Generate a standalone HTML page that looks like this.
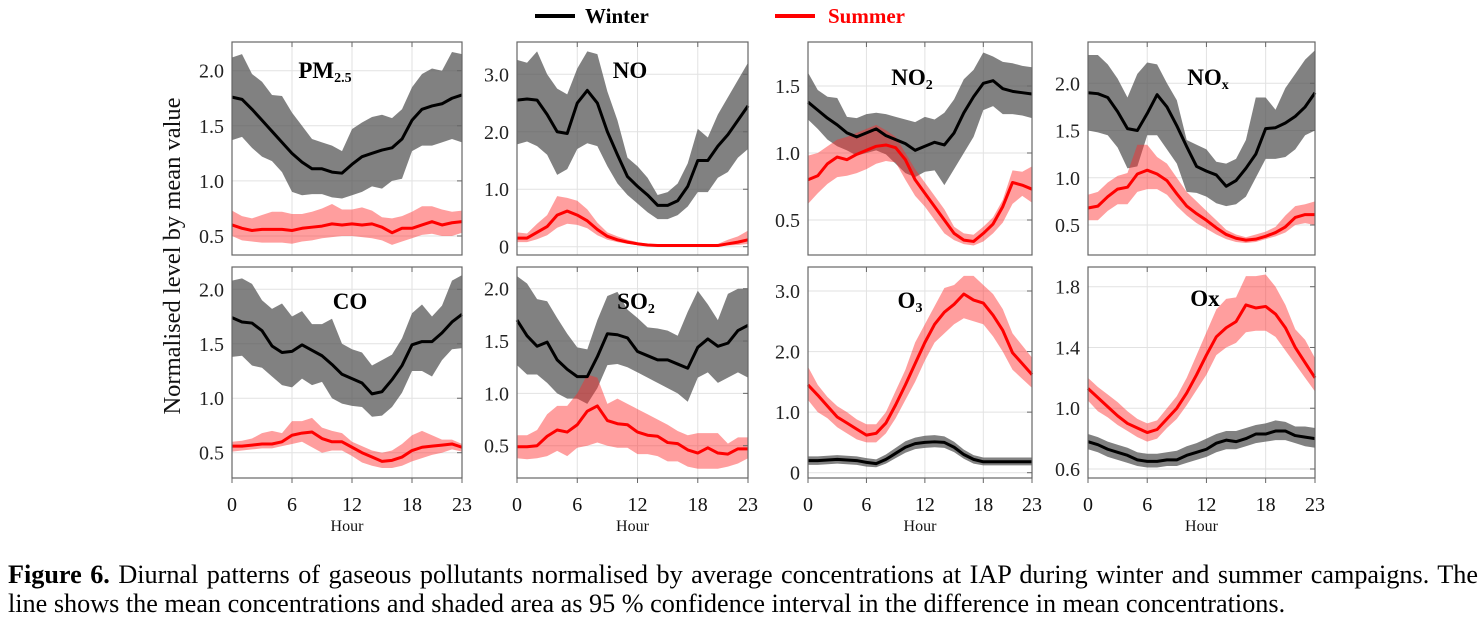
<!DOCTYPE html>
<html><head><meta charset="utf-8"><style>
body{margin:0;background:#fff;width:1482px;height:623px;overflow:hidden;font-family:"Liberation Serif",serif}
.cap{position:absolute;left:8px;width:1470px;font-size:26.2px;color:#000;white-space:nowrap;font-family:"Liberation Serif",serif}
.j{text-align:justify;text-align-last:justify;white-space:normal}
</style></head><body>
<svg id="chart" width="1482" height="623" style="position:absolute;left:0;top:0" font-family="Liberation Serif, serif"></svg>
<div class="cap j" style="top:560px"><b>Figure 6.</b> Diurnal patterns of gaseous pollutants normalised by average concentrations at IAP during winter and summer campaigns. The</div>
<div class="cap" style="top:589px">line shows the mean concentrations and shaded area as 95 % confidence interval in the difference in mean concentrations.</div>
<script>
const hours=[0,1,2,3,4,5,6,7,8,9,10,11,12,13,14,15,16,17,18,19,20,21,22,23];
const xTicks=[0,6,12,18,23];
const pm_w=[1.76,1.74,1.65,1.55,1.45,1.35,1.25,1.17,1.11,1.11,1.08,1.07,1.15,1.22,1.25,1.28,1.30,1.38,1.55,1.65,1.68,1.70,1.75,1.78];
const pm_wu=[2.12,2.15,1.97,1.90,1.78,1.77,1.62,1.50,1.38,1.35,1.32,1.27,1.47,1.53,1.58,1.60,1.57,1.65,1.85,1.97,2.02,2.00,2.17,2.15];
const pm_wl=[1.37,1.40,1.30,1.22,1.18,1.08,0.90,0.87,0.88,0.88,0.85,0.84,0.87,0.90,0.95,0.93,1.00,1.02,1.27,1.32,1.32,1.35,1.38,1.35];
const pm_s=[0.60,0.57,0.55,0.56,0.56,0.56,0.55,0.57,0.58,0.59,0.61,0.60,0.61,0.60,0.61,0.58,0.53,0.57,0.57,0.60,0.63,0.60,0.62,0.63];
const pm_su=[0.73,0.68,0.66,0.69,0.72,0.72,0.70,0.70,0.72,0.75,0.79,0.74,0.74,0.76,0.73,0.67,0.66,0.68,0.72,0.77,0.77,0.74,0.72,0.73];
const pm_sl=[0.50,0.46,0.45,0.44,0.44,0.44,0.43,0.45,0.46,0.48,0.49,0.50,0.50,0.49,0.48,0.46,0.42,0.45,0.48,0.51,0.52,0.50,0.50,0.53];
const no_w=[2.55,2.57,2.55,2.30,2.00,1.97,2.50,2.72,2.50,2.00,1.60,1.22,1.05,0.90,0.72,0.72,0.80,1.05,1.50,1.50,1.75,1.95,2.20,2.45];
const no_wu=[3.25,3.20,3.40,3.00,2.75,2.65,3.10,3.40,3.35,2.70,2.20,1.55,1.40,1.20,0.90,0.95,1.10,1.45,2.05,1.90,2.30,2.60,2.90,3.20];
const no_wl=[1.78,1.83,1.75,1.60,1.25,1.35,1.70,1.80,1.75,1.40,1.10,0.90,0.75,0.60,0.48,0.48,0.55,0.70,0.95,0.95,1.20,1.30,1.55,1.70];
const no_s=[0.15,0.15,0.25,0.35,0.55,0.62,0.55,0.45,0.30,0.18,0.12,0.08,0.05,0.03,0.02,0.02,0.02,0.02,0.02,0.02,0.02,0.05,0.08,0.12];
const no_su=[0.25,0.23,0.40,0.55,0.88,0.85,0.80,0.65,0.42,0.25,0.18,0.12,0.08,0.05,0.04,0.04,0.04,0.04,0.04,0.04,0.05,0.12,0.18,0.28];
const no_sl=[0.08,0.08,0.13,0.20,0.33,0.40,0.38,0.32,0.20,0.12,0.08,0.05,0.03,0.01,0.01,0.01,0.01,0.01,0.01,0.01,0.01,0.02,0.03,0.05];
const no2_w=[1.38,1.32,1.26,1.21,1.15,1.12,1.15,1.18,1.13,1.10,1.07,1.02,1.05,1.08,1.06,1.15,1.30,1.42,1.52,1.54,1.48,1.46,1.45,1.44];
const no2_wu=[1.60,1.47,1.42,1.41,1.27,1.26,1.29,1.30,1.29,1.27,1.25,1.23,1.27,1.25,1.30,1.40,1.55,1.62,1.75,1.72,1.68,1.67,1.65,1.64];
const no2_wl=[1.25,1.18,1.10,1.05,1.02,0.98,1.00,1.02,0.99,0.92,0.85,0.82,0.86,0.87,0.76,0.88,1.00,1.12,1.32,1.35,1.29,1.29,1.28,1.26];
const no2_s=[0.80,0.83,0.92,0.97,0.95,0.99,1.02,1.05,1.06,1.04,0.95,0.80,0.70,0.60,0.50,0.40,0.35,0.34,0.40,0.47,0.60,0.78,0.76,0.73];
const no2_su=[0.98,1.00,1.05,1.10,1.12,1.15,1.18,1.21,1.17,1.12,1.00,0.88,0.78,0.68,0.58,0.45,0.40,0.39,0.45,0.52,0.65,0.87,0.86,0.90];
const no2_sl=[0.62,0.70,0.77,0.82,0.83,0.85,0.88,0.92,0.94,0.93,0.80,0.68,0.60,0.50,0.40,0.35,0.32,0.31,0.34,0.40,0.48,0.62,0.68,0.63];
const nox_w=[1.90,1.89,1.85,1.70,1.52,1.50,1.68,1.88,1.75,1.55,1.33,1.12,1.07,1.03,0.91,0.97,1.10,1.25,1.52,1.53,1.58,1.65,1.75,1.90];
const nox_wu=[2.30,2.30,2.20,2.05,1.85,2.10,2.22,2.20,2.00,1.82,1.40,1.35,1.30,1.17,1.15,1.20,1.40,1.85,1.85,1.72,1.95,2.10,2.25,2.35];
const nox_wl=[1.50,1.48,1.45,1.32,1.10,1.12,1.45,1.45,1.30,1.15,0.85,0.84,0.80,0.73,0.70,0.72,0.80,1.00,1.20,1.20,1.22,1.30,1.45,1.50];
const nox_s=[0.68,0.70,0.80,0.88,0.90,1.04,1.08,1.04,0.97,0.83,0.70,0.62,0.55,0.47,0.40,0.36,0.34,0.35,0.38,0.42,0.48,0.58,0.61,0.61];
const nox_su=[0.82,0.85,0.95,1.02,1.05,1.35,1.35,1.22,1.15,1.00,0.85,0.75,0.65,0.55,0.45,0.40,0.37,0.40,0.43,0.48,0.60,0.70,0.72,0.75];
const nox_sl=[0.55,0.55,0.65,0.72,0.72,0.85,0.88,0.88,0.82,0.70,0.60,0.52,0.46,0.40,0.35,0.32,0.31,0.32,0.35,0.38,0.42,0.50,0.52,0.50];
const co_w=[1.74,1.70,1.69,1.62,1.48,1.42,1.43,1.49,1.44,1.39,1.31,1.22,1.18,1.14,1.04,1.06,1.17,1.30,1.49,1.52,1.52,1.60,1.70,1.77];
const co_wu=[2.08,2.10,2.05,1.90,1.82,1.87,1.75,1.80,1.68,1.68,1.73,1.50,1.45,1.42,1.30,1.35,1.40,1.55,1.78,1.86,1.75,1.85,2.08,2.13];
const co_wl=[1.38,1.39,1.30,1.28,1.20,1.12,1.10,1.18,1.12,1.15,1.00,0.95,0.93,0.92,0.83,0.84,0.92,1.05,1.25,1.25,1.20,1.35,1.45,1.46];
const co_s=[0.56,0.56,0.57,0.58,0.58,0.60,0.66,0.68,0.69,0.63,0.60,0.60,0.55,0.50,0.46,0.42,0.43,0.46,0.52,0.55,0.56,0.57,0.58,0.55];
const co_su=[0.60,0.61,0.63,0.68,0.70,0.68,0.79,0.79,0.82,0.73,0.70,0.68,0.60,0.56,0.52,0.50,0.52,0.58,0.66,0.70,0.66,0.62,0.62,0.58];
const co_sl=[0.51,0.52,0.53,0.54,0.54,0.56,0.58,0.60,0.55,0.50,0.52,0.52,0.47,0.41,0.38,0.36,0.36,0.38,0.42,0.45,0.48,0.50,0.53,0.51];
const so2_w=[1.70,1.55,1.45,1.49,1.32,1.23,1.16,1.16,1.35,1.57,1.56,1.53,1.40,1.36,1.32,1.32,1.28,1.24,1.44,1.52,1.45,1.48,1.60,1.65];
const so2_wu=[2.12,2.05,1.90,1.88,1.72,1.57,1.44,1.42,1.70,1.93,1.97,1.80,1.72,1.63,1.62,1.60,1.55,1.78,1.98,1.85,1.70,1.95,2.00,2.00];
const so2_wl=[1.27,1.18,1.18,1.10,1.00,0.95,0.95,0.90,1.05,1.27,1.28,1.25,1.20,1.15,1.10,1.05,1.00,0.92,1.15,1.20,1.10,1.15,1.20,1.15];
const so2_s=[0.49,0.49,0.50,0.59,0.65,0.63,0.70,0.83,0.88,0.74,0.71,0.70,0.63,0.60,0.59,0.53,0.52,0.46,0.43,0.48,0.43,0.42,0.47,0.47];
const so2_su=[0.60,0.60,0.65,0.80,0.88,0.88,1.00,1.18,1.15,0.90,0.95,0.90,0.85,0.80,0.75,0.70,0.64,0.60,0.62,0.62,0.62,0.52,0.58,0.58];
const so2_sl=[0.38,0.37,0.38,0.40,0.45,0.40,0.48,0.50,0.53,0.50,0.48,0.48,0.42,0.42,0.40,0.35,0.35,0.30,0.28,0.28,0.28,0.30,0.33,0.38];
const o3_w=[0.20,0.20,0.21,0.22,0.21,0.20,0.17,0.15,0.22,0.32,0.42,0.48,0.50,0.51,0.50,0.42,0.30,0.22,0.18,0.18,0.18,0.18,0.18,0.18];
const o3_wu=[0.27,0.27,0.28,0.29,0.28,0.27,0.24,0.22,0.30,0.41,0.52,0.58,0.61,0.62,0.60,0.51,0.38,0.29,0.25,0.25,0.25,0.25,0.25,0.25];
const o3_wl=[0.13,0.13,0.14,0.15,0.14,0.13,0.10,0.09,0.15,0.24,0.33,0.39,0.41,0.42,0.41,0.34,0.23,0.15,0.12,0.12,0.12,0.12,0.12,0.12];
const o3_s=[1.45,1.28,1.10,0.92,0.82,0.72,0.62,0.65,0.82,1.12,1.45,1.80,2.15,2.45,2.65,2.78,2.95,2.85,2.80,2.60,2.35,1.98,1.80,1.62];
const o3_su=[1.75,1.45,1.25,1.10,1.00,0.88,0.80,0.80,1.00,1.35,1.70,2.15,2.45,2.75,3.05,3.10,3.25,3.25,3.10,2.95,2.70,2.30,2.10,1.90];
const o3_sl=[1.20,1.00,0.90,0.75,0.65,0.55,0.50,0.50,0.65,0.90,1.20,1.50,1.85,2.15,2.30,2.45,2.55,2.50,2.45,2.25,2.00,1.70,1.55,1.40];
const ox_w=[0.78,0.76,0.73,0.71,0.69,0.66,0.65,0.65,0.66,0.66,0.69,0.71,0.73,0.77,0.79,0.78,0.80,0.83,0.83,0.85,0.85,0.82,0.81,0.80];
const ox_wu=[0.83,0.81,0.78,0.76,0.74,0.71,0.70,0.70,0.71,0.72,0.75,0.77,0.80,0.83,0.85,0.85,0.87,0.89,0.90,0.92,0.91,0.88,0.88,0.87];
const ox_wl=[0.73,0.71,0.68,0.66,0.64,0.62,0.61,0.61,0.62,0.62,0.64,0.66,0.68,0.71,0.73,0.73,0.75,0.77,0.78,0.79,0.79,0.77,0.75,0.74];
const ox_s=[1.13,1.07,1.01,0.95,0.90,0.87,0.84,0.86,0.93,1.00,1.10,1.22,1.35,1.47,1.53,1.57,1.68,1.66,1.67,1.62,1.53,1.40,1.30,1.20];
const ox_su=[1.20,1.14,1.09,1.04,0.98,0.93,0.90,0.92,1.00,1.08,1.20,1.35,1.50,1.65,1.72,1.73,1.87,1.87,1.88,1.80,1.68,1.52,1.45,1.33];
const ox_sl=[1.05,0.98,0.94,0.89,0.85,0.81,0.78,0.80,0.87,0.93,1.02,1.12,1.22,1.35,1.40,1.43,1.50,1.51,1.51,1.47,1.38,1.29,1.20,1.11];
const yt_a=[0.5,1.0,1.5,2.0], yl_a=["0.5","1.0","1.5","2.0"];
const yt_no=[0,1,2,3], yl_no=["0","1.0","2.0","3.0"];
const yt_no2=[0.5,1.0,1.5], yl_no2=["0.5","1.0","1.5"];
const yt_ox=[0.6,1.0,1.4,1.8], yl_ox=["0.6","1.0","1.4","1.8"];

const NS="http://www.w3.org/2000/svg", svg=document.getElementById('chart');
function mk(t,a,p){const e=document.createElementNS(NS,t);for(const k in a)e.setAttribute(k,a[k]);(p||svg).appendChild(e);return e;}
const panels=[
 {n:'pm25',t:'PM',sub:'2.5',x0:232,x1:462,y0:42,y1:255,va:2.0,pa:70.7,vb:0.5,pb:236,yt:yt_a,yl:yl_a,w:[pm_w,pm_wu,pm_wl],s:[pm_s,pm_su,pm_sl],tx:325,ty:78,xl:false},
 {n:'no',t:'NO',sub:'',x0:517,x1:748,y0:42,y1:255,va:3,pa:74.3,vb:0,pb:246.7,yt:yt_no,yl:yl_no,w:[no_w,no_wu,no_wl],s:[no_s,no_su,no_sl],tx:630,ty:78,xl:false},
 {n:'no2',t:'NO',sub:'2',x0:808,x1:1032,y0:42,y1:255,va:1.5,pa:86,vb:0.5,pb:220,yt:yt_no2,yl:yl_no2,w:[no2_w,no2_wu,no2_wl],s:[no2_s,no2_su,no2_sl],tx:912,ty:85,xl:false},
 {n:'nox',t:'NO',sub:'x',x0:1088,x1:1315,y0:42,y1:255,va:2.0,pa:83.3,vb:0.5,pb:225,yt:yt_a,yl:yl_a,w:[nox_w,nox_wu,nox_wl],s:[nox_s,nox_su,nox_sl],tx:1208,ty:85,xl:false},
 {n:'co',t:'CO',sub:'',x0:232,x1:462,y0:267,y1:478,va:2.0,pa:289.3,vb:0.5,pb:452.7,yt:yt_a,yl:yl_a,w:[co_w,co_wu,co_wl],s:[co_s,co_su,co_sl],tx:350,ty:309,xl:true},
 {n:'so2',t:'SO',sub:'2',x0:517,x1:748,y0:267,y1:478,va:2.0,pa:288.7,vb:0.5,pb:445.7,yt:yt_a,yl:yl_a,w:[so2_w,so2_wu,so2_wl],s:[so2_s,so2_su,so2_sl],tx:636,ty:309,xl:true},
 {n:'o3',t:'O',sub:'3',x0:808,x1:1032,y0:267,y1:478,va:3,pa:291,vb:0,pb:472.7,yt:yt_no,yl:yl_no,w:[o3_w,o3_wu,o3_wl],s:[o3_s,o3_su,o3_sl],tx:910,ty:308,xl:true},
 {n:'ox',t:'Ox',sub:'',x0:1088,x1:1315,y0:267,y1:478,va:1.8,pa:286.7,vb:0.6,pb:469,yt:yt_ox,yl:yl_ox,w:[ox_w,ox_wu,ox_wl],s:[ox_s,ox_su,ox_sl],tx:1205,ty:306,xl:true}
];
panels.forEach(p=>{
 const X=h=>p.x0+h*(p.x1-p.x0)/23;
 const Y=v=>p.pa+(v-p.va)*(p.pb-p.pa)/(p.vb-p.va);
 const g=mk('g',{});
 
 
 xTicks.slice(0,4).forEach(h=>{if(h>0)mk('line',{x1:X(h),x2:X(h),y1:p.y0,y2:p.y1,stroke:'#e2e2e2','stroke-width':1},g);});
 p.yt.forEach(v=>mk('line',{x1:p.x0,x2:p.x1,y1:Y(v),y2:Y(v),stroke:'#e2e2e2','stroke-width':1},g));
 function band(arr,fill,name){
  let d='M'+hours.map(h=>X(h)+','+Y(arr[1][h])).join('L')+'L'+hours.slice().reverse().map(h=>X(h)+','+Y(arr[2][h])).join('L')+'Z';
  const b=mk('path',{d:d,fill:fill},g);
  
  
 }
 function line(arr,col,name){
  const l=mk('polyline',{points:hours.map(h=>X(h)+','+Y(arr[0][h])).join(' '),fill:'none',stroke:col,'stroke-width':3,'stroke-linejoin':'round'},g);
  
  
 }
 band(p.w,'rgba(80,80,80,0.72)','winter');
 band(p.s,'rgba(255,40,40,0.45)','summer');
 line(p.w,'#000','winter');
 line(p.s,'#ff0000','summer');
 mk('rect',{x:p.x0,y:p.y0,width:p.x1-p.x0,height:p.y1-p.y0,fill:'none',stroke:'#666','stroke-width':1.2},g);
 p.yt.forEach((v,i)=>{
  mk('line',{x1:p.x1-5,x2:p.x1,y1:Y(v),y2:Y(v),stroke:'#666'},g);
  const t=mk('text',{x:p.x0-8,y:Y(v)+7,'text-anchor':'end','font-size':20,fill:'#222'},g);t.textContent=p.yl[i];
  
  
 });
 xTicks.forEach(h=>{
  mk('line',{x1:X(h),x2:X(h),y1:p.y0,y2:p.y0+5,stroke:'#666'},g);
  if(p.xl){mk('line',{x1:X(h),x2:X(h),y1:p.y1,y2:p.y1+5,stroke:'#666'},g);
   const t=mk('text',{x:X(h),y:511,'text-anchor':'middle','font-size':20,fill:'#111'},g);t.textContent=h;
   
   }
 });
 if(p.xl){const t=mk('text',{x:(p.x0+p.x1)/2,y:531,'text-anchor':'middle','font-size':16,fill:'#111'},g);t.textContent='Hour';
  
  }
 const tt=mk('text',{x:p.tx,y:p.ty,'text-anchor':'middle','font-size':23,'font-weight':'bold',fill:'#000'},g);
 tt.textContent=p.t;
 if(p.sub){const s=mk('tspan',{'font-size':14,dy:4},tt);s.textContent=p.sub;}
 
 
});
const yt=mk('text',{x:0,y:0,transform:'translate(180,256) rotate(-90)','text-anchor':'middle','font-size':24.5,fill:'#111'});
yt.textContent='Normalised level by mean value';


const lg=mk('g',{});


mk('line',{x1:535,x2:575,y1:16,y2:16,stroke:'#000','stroke-width':4},lg);
const lw=mk('text',{x:585,y:23,'font-size':21,'font-weight':'bold',fill:'#000'},lg);lw.textContent='Winter';


mk('line',{x1:775,x2:815,y1:16,y2:16,stroke:'#ff0000','stroke-width':4},lg);
const ls=mk('text',{x:828,y:23,'font-size':21,'font-weight':'bold',fill:'#ff0000'},lg);ls.textContent='Summer';


</script>
</body></html>
